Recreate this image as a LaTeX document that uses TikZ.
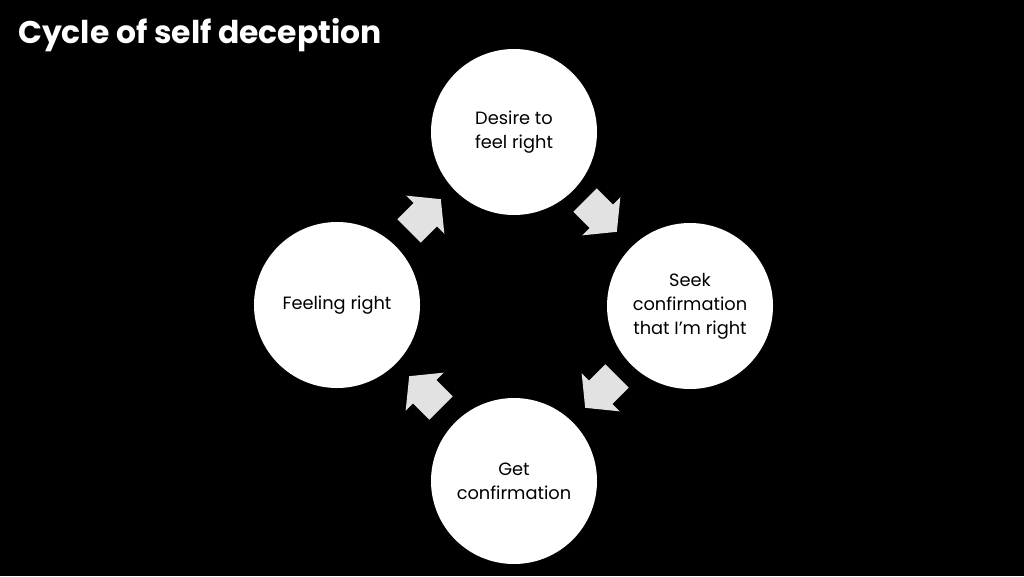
\documentclass[tikz,border=0pt]{standalone}
\usepackage{fontspec}
\setmainfont[Ligatures={NoCommon}]{Poppins}
\newfontfamily\titlefont[Ligatures={NoCommon}]{Poppins Bold}
\definecolor{arrowgray}{HTML}{E2E2E2}
\tikzset{
  stage/.style={circle, fill=white, minimum size=166pt, inner sep=0pt, align=center,
    font=\fontsize{17.8}{24}\selectfont, text=black},
  pics/blockarrow/.style={code={
    \fill[arrowgray] (0,16.5) -- (23,16.5) -- (23,27) -- (45,0) -- (23,-27) -- (23,-16.5) -- (0,-16.5) -- cycle;
  }}
}
\begin{document}
\begin{tikzpicture}[x=1pt,y=-1pt]
\fill[black] (0,0) rectangle (1024,576);
\useasboundingbox (0,0) rectangle (1024,576);
\node[anchor=base west, text=white, font=\titlefont\fontsize{31.4}{36}\selectfont, inner sep=0pt] (title) at (18,43) {Cycle of self deception};
\node[stage] (desire) at (514,132) {Desire to\\feel right};
\node[stage] (seek) at (690,306) {Seek\\confirmation\\that I\symbol{39}m right};
\node[stage] (get) at (514,481) {Get\\confirmation};
\node[stage] (feeling) at (337,305) {Feeling right};
\pic[rotate=-45] at (585,200) {blockarrow};
\pic[rotate=-135] at (617,376) {blockarrow};
\pic[rotate=135] at (441,408) {blockarrow};
\pic[rotate=45] at (409,231) {blockarrow};
\end{tikzpicture}
\end{document}
